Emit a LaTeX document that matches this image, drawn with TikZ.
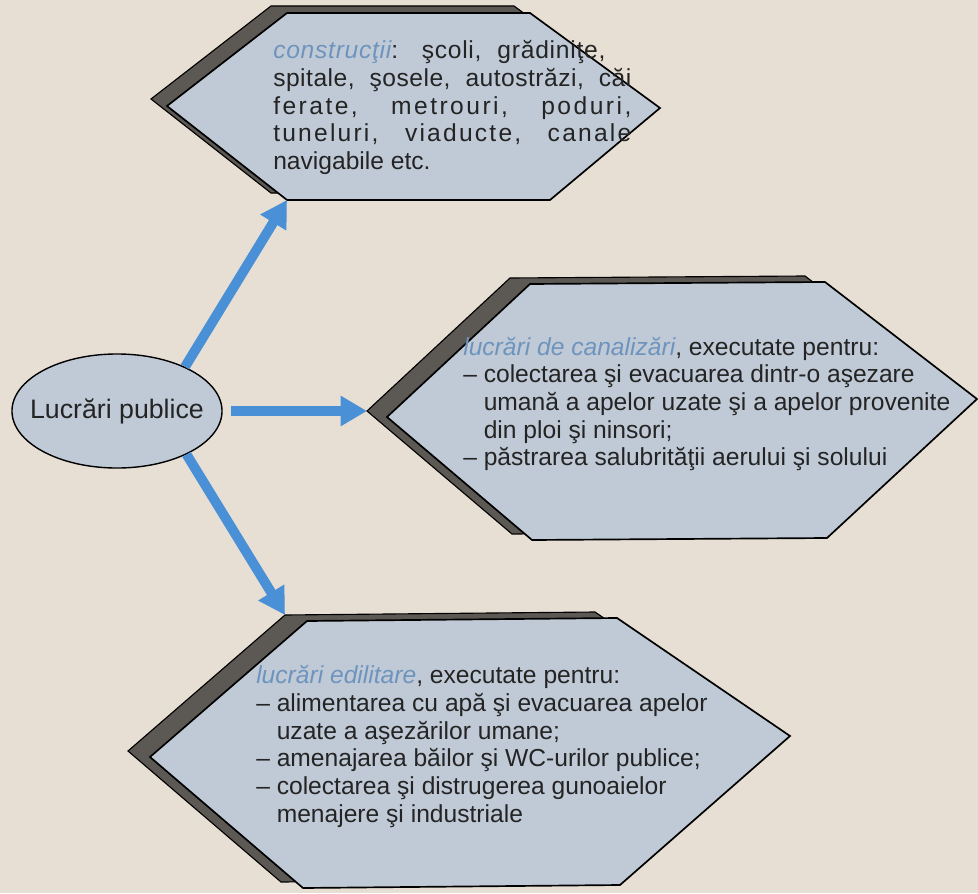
\documentclass[tikz,border=0pt]{standalone}
\usepackage{fontspec}
\setmainfont{Liberation Sans}
\usetikzlibrary{shapes.geometric,arrows.meta}
\definecolor{paper}{RGB}{232,223,212}
\definecolor{boxblue}{RGB}{192,202,214}
\definecolor{boxdark}{RGB}{92,88,84}
\definecolor{linkblue}{RGB}{74,144,214}
\definecolor{lblblue}{RGB}{110,148,190}
\definecolor{ink}{RGB}{36,36,36}
\newcommand{\lbl}[1]{\textcolor{lblblue}{\itshape #1}}
\newcommand{\ind}{\hphantom{–\ }}
\newcommand{\wide}[1]{{\addfontfeature{LetterSpace=#1}}}

\begin{document}
\begin{tikzpicture}[x=0.025cm, y=-0.025cm,
                    hexfront/.style={draw=black, line width=1.2pt, fill=boxblue},
                    hexdark/.style={draw=black, line width=0.8pt, fill=boxdark},
                    txt/.style={anchor=north west, inner sep=0pt, align=left, text=ink,
                                font=\fontsize{17.5}{19.6}\selectfont},
                    link/.style={draw=linkblue, line width=7pt, -{Triangle[length=0.66cm, width=0.72cm]}}
                    ]
                    \fill[paper] (0,0) rectangle (978,893);
                    \useasboundingbox (0,0) rectangle (978,893);

                    \draw[hexdark, shift={(-16,-7)}] (167,106) -- (287,13) -- (530,13) -- (660,108) -- (550,200) -- (287,200) -- cycle;
                    \draw[hexfront] (167,106) -- (287,13) -- (530,13) -- (660,108) -- (550,200) -- (287,200) coordinate (con-sw) -- cycle;

                    \draw[hexdark, shift={(-20,-6)}] (387,417) coordinate (can-w) -- (530,284) -- (825,282) -- (977,399) -- (827,538) -- (532,540) -- cycle;
                    \draw[hexfront] (387,417) -- (530,284) -- (825,282) -- (977,399) -- (827,538) -- (532,540) -- cycle;

                    \draw[hexdark, shift={(-22,-6)}] (150,757) -- (307,621) coordinate (edi-nw) -- (617,618) -- (790,736) -- (620,885) -- (303,888) -- cycle;
                    \draw[hexfront] (150,757) -- (307,621) -- (617,618) -- (790,736) -- (620,885) -- (303,888) -- cycle;

                    \node[ellipse, draw=black, line width=1pt, fill=boxblue, minimum width=5.25cm, minimum height=2.85cm,
                          inner sep=0pt, text=ink, font=\fontsize{19}{22}\selectfont] (pub) at (117,411) {\makebox[0pt]{Lucrări publice}};

                    \node[txt, font=\fontsize{17.5}{19.8}\selectfont] (con) at (273,40) {\makebox[8.3cm][s]{\addfontfeature{LetterSpace=3}\lbl{construcţii}: şcoli, grădiniţe,}\\
                        \makebox[8.95cm][s]{\addfontfeature{LetterSpace=2}spitale, şosele, autostrăzi, căi}\\
                        \makebox[8.95cm][s]{\addfontfeature{LetterSpace=10}ferate, metrouri, poduri,}\\
                        \makebox[8.95cm][s]{\addfontfeature{LetterSpace=9}tuneluri, viaducte, canale}\\
                        navigabile etc.};
                    \node[txt] (can) at (463,337) {\lbl{lucrări de canalizări}, executate pentru:\\
                        – colectarea şi evacuarea dintr-o aşezare\\
                        \ind umană a apelor uzate şi a apelor provenite\\
                        \ind din ploi şi ninsori;\\
                        – păstrarea salubrităţii aerului şi solului};
                    \node[txt, font=\fontsize{17.5}{19.8}\selectfont] (edi) at (256,665) {\lbl{lucrări edilitare}, executate pentru:\\
                        – alimentarea cu apă şi evacuarea apelor\\
                        \ind uzate a aşezărilor umane;\\
                        – amenajarea băilor şi WC-urilor publice;\\
                        – colectarea şi distrugerea gunoaielor\\
                        \ind menajere şi industriale};

                    \foreach \a/\b/\s in {pub.33/con-sw/0pt, pub.east/can-w/0.2cm, pub.-32/edi-nw/0pt}{
                        \draw[link, shorten <=\s] (\a) -- (\b);
                    }
                \end{tikzpicture}
\end{document}
